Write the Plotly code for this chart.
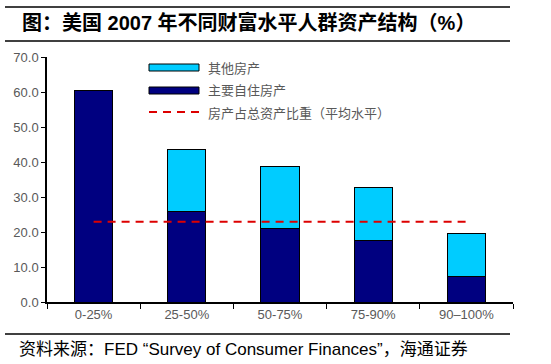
import plotly.graph_objects as go

categories = ["0-25%", "25-50%", "50-75%", "75-90%", "90–100%"]
owner_home = [60.5, 25.8, 21.0, 17.6, 7.3]
other_home_total = [60.5, 43.6, 38.8, 32.8, 19.7]
other_home = [round(t - o, 1) for t, o in zip(other_home_total, owner_home)]
avg_share = [22.9, 22.9, 22.9, 22.9, 22.9]
y_ticks = [0, 10, 20, 30, 40, 50, 60, 70]

legend_names = ["其他房产", "主要自住房产", "房产占总资产比重（平均水平）"]

fig = go.Figure()
fig.add_trace(go.Bar(x=categories, y=owner_home, name=legend_names[1],
                     marker=dict(color="#000080", line=dict(color="black", width=1)),
                     width=0.41))
fig.add_trace(go.Bar(x=categories, y=other_home, name=legend_names[0],
                     marker=dict(color="#00CCFF", line=dict(color="black", width=1)),
                     width=0.41))
fig.add_trace(go.Scatter(x=categories, y=avg_share, mode="lines", name=legend_names[2],
                         line=dict(color="#DD0000", width=2, dash="8px,6px")))

gray = "#595959"
fig.update_layout(
    barmode="stack",
    width=551, height=364,
    margin=dict(l=47, r=38, t=57, b=62),
    paper_bgcolor="white", plot_bgcolor="white",
    showlegend=False,
    font=dict(family="Arial, Liberation Sans, sans-serif", color=gray, size=13),
    xaxis=dict(showline=True, linecolor="black", linewidth=1.5,
               ticks="outside", tickcolor="black", ticklen=5,
               tickson="boundaries", showgrid=False,
               tickfont=dict(size=13, color=gray)),
    yaxis=dict(range=[0, 70], tickvals=y_ticks,
               ticktext=[f"{v:.1f}" for v in y_ticks],
               showline=True, linecolor="black", linewidth=1.5,
               ticks="outside", tickcolor="black", ticklen=4,
               showgrid=False, zeroline=False,
               tickfont=dict(size=13, color=gray)),
)


def px_x(p):
    return (p - 47) / 466


def px_y(p):
    return (302 - p) / 245


# title and frame lines
fig.add_annotation(text="<b>图：美国 2007 年不同财富水平人群资产结构（%）</b>",
                   xref="paper", yref="paper", x=px_x(20), y=px_y(23),
                   xanchor="left", yanchor="middle", showarrow=False,
                   font=dict(family="Arial, Noto Sans CJK SC", size=20, color="black"))

for yy in (7, 41, 334):
    fig.add_shape(type="rect", xref="paper", yref="paper", x0=px_x(5), x1=px_x(510),
                  y0=px_y(yy + 0.8), y1=px_y(yy - 0.8), fillcolor="black",
                  line=dict(width=0), layer="above")

fig.add_annotation(text="资料来源：FED “Survey of Consumer Finances”，海通证券",
                   xref="paper", yref="paper", x=px_x(17), y=px_y(349),
                   xanchor="left", yanchor="middle", showarrow=False,
                   font=dict(family="Arial, Noto Sans CJK SC", size=17, color="black"))

# legend
leg_rows = [67, 90, 112]
fig.add_shape(type="rect", xref="paper", yref="paper", x0=px_x(149), x1=px_x(199),
              y0=px_y(71), y1=px_y(64), fillcolor="#00CCFF", line=dict(color="black", width=1))
fig.add_shape(type="rect", xref="paper", yref="paper", x0=px_x(149), x1=px_x(199),
              y0=px_y(94), y1=px_y(87), fillcolor="#000080", line=dict(color="black", width=1))
fig.add_shape(type="line", xref="paper", yref="paper", x0=px_x(149), x1=px_x(199),
              y0=px_y(112), y1=px_y(112), line=dict(color="#DD0000", width=2, dash="8px,6px"))
for name, row in zip(legend_names, leg_rows):
    fig.add_annotation(text=name, xref="paper", yref="paper", x=px_x(206), y=px_y(row),
                       xanchor="left", yanchor="middle", showarrow=False,
                       font=dict(family="Noto Sans CJK SC", size=13, color=gray))

fig.write_html("out.html", config={"displayModeBar": False},
               post_script="document.body.style.margin='0px';")
